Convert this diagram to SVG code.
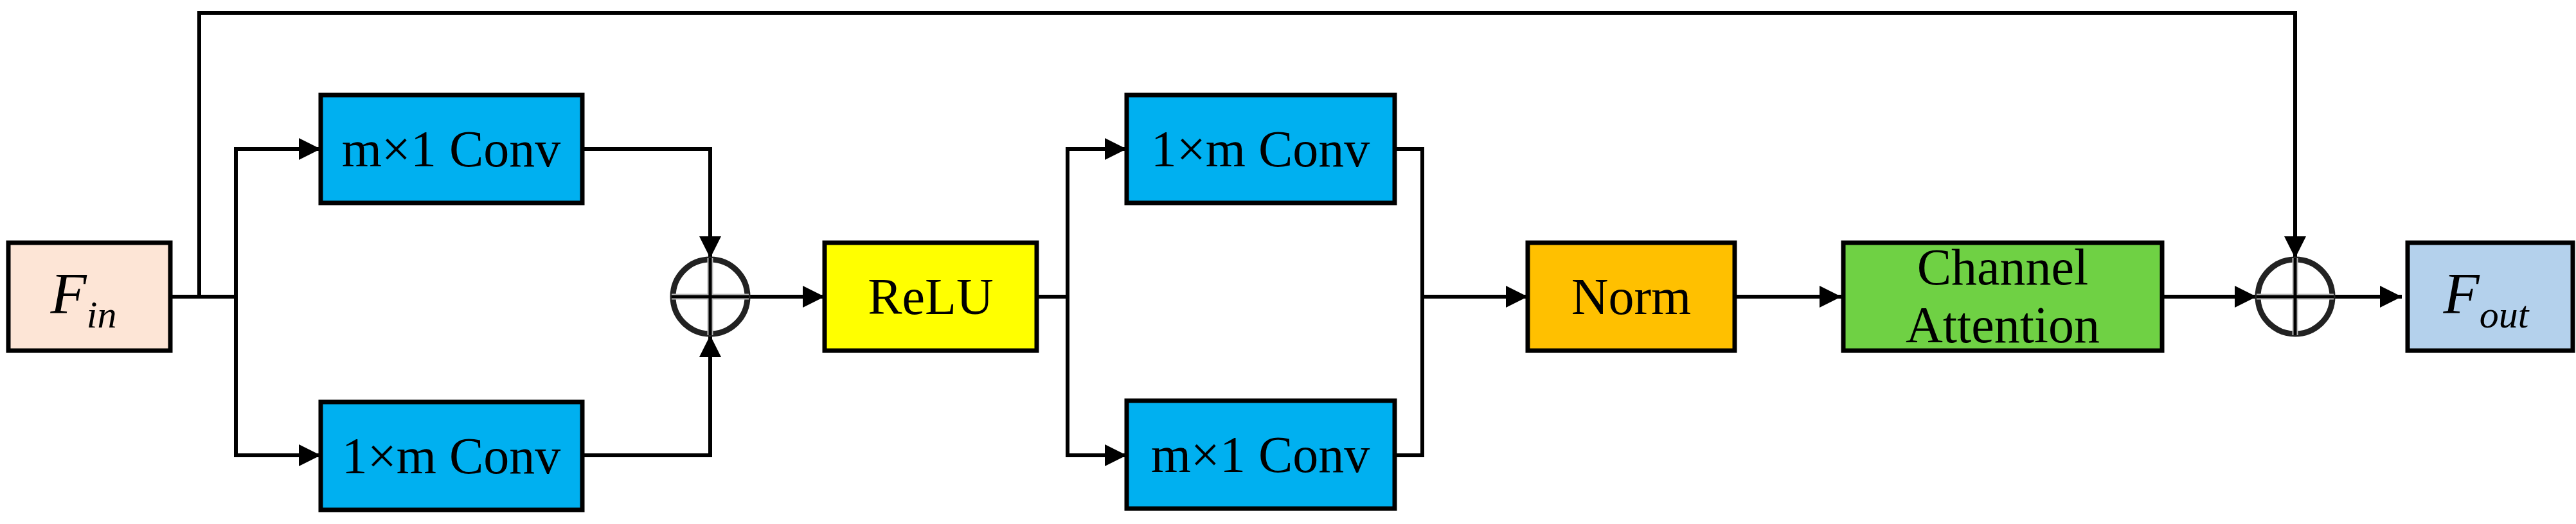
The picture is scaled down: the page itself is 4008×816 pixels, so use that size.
<svg xmlns="http://www.w3.org/2000/svg" width="4008" height="816" viewBox="0 0 4008 816">
<style>
.b{stroke:#000;stroke-width:7}
.t{font-family:"Liberation Serif",serif;font-size:80px;text-anchor:middle;fill:#000}
.c{fill:none;stroke:#000;stroke-width:6}
</style>
<defs>
<marker id="a" viewBox="0 0 10 10" refX="10" refY="5" markerWidth="34" markerHeight="34" markerUnits="userSpaceOnUse" orient="auto"><path d="M0,0L10,5L0,10z" fill="#000"/></marker>
</defs>
<rect width="4008" height="816" fill="#fff"/>
<g id="connectors" class="c">
<path d="M265,462H367V232H499" marker-end="url(#a)"/>
<path d="M367,462V709H499" marker-end="url(#a)"/>
<path d="M310,462V20H3571V402" marker-end="url(#a)"/>
<path d="M906,232H1105V402" marker-end="url(#a)"/>
<path d="M906,709H1105V522" marker-end="url(#a)"/>
<path d="M1165,462H1283" marker-end="url(#a)"/>
<path d="M1613,462H1661V232H1753" marker-end="url(#a)"/>
<path d="M1661,462V709H1753" marker-end="url(#a)"/>
<path d="M2170,232H2213V709H2170"/>
<path d="M2213,462H2377" marker-end="url(#a)"/>
<path d="M2699,462H2865" marker-end="url(#a)"/>
<path d="M3364,462H3511" marker-end="url(#a)"/>
<path d="M3631,462H3737" marker-end="url(#a)"/>
</g>
<g id="fin"><rect x="13" y="378" width="252" height="168" fill="#fde5d6" class="b"/><text x="130" y="488" class="t" style="font-style:italic;font-size:92px">F<tspan font-size="60" dy="22">in</tspan></text></g>
<g id="conv1"><rect x="499" y="148" width="407" height="168" fill="#00b0f0" class="b"/><text x="702" y="259" class="t">m×1 Conv</text></g>
<g id="conv2"><rect x="499" y="626" width="407" height="168" fill="#00b0f0" class="b"/><text x="702" y="737" class="t">1×m Conv</text></g>
<g id="add1"><circle cx="1105" cy="462" r="58" fill="none" stroke="#222" stroke-width="9"/><path d="M1045,462H1165M1105,402V522" stroke="#bbb" stroke-width="9"/><path d="M1045,462H1165M1105,402V522" stroke="#000" stroke-width="5"/></g>
<g id="relu"><rect x="1283" y="378" width="330" height="168" fill="#ffff00" class="b"/><text x="1448" y="489" class="t">ReLU</text></g>
<g id="conv3"><rect x="1753" y="148" width="417" height="168" fill="#00b0f0" class="b"/><text x="1961" y="259" class="t">1×m Conv</text></g>
<g id="conv4"><rect x="1753" y="624" width="417" height="168" fill="#00b0f0" class="b"/><text x="1961" y="735" class="t">m×1 Conv</text></g>
<g id="norm"><rect x="2377" y="378" width="322" height="168" fill="#ffc000" class="b"/><text x="2538" y="489" class="t">Norm</text></g>
<g id="ca"><rect x="2868" y="378" width="496" height="168" fill="#6fd144" class="b"/><text x="3116" y="443" class="t">Channel</text><text x="3116" y="533" class="t">Attention</text></g>
<g id="add2"><circle cx="3571" cy="462" r="58" fill="none" stroke="#222" stroke-width="9"/><path d="M3511,462H3631M3571,402V522" stroke="#bbb" stroke-width="9"/><path d="M3511,462H3631M3571,402V522" stroke="#000" stroke-width="5"/></g>
<g id="fout"><rect x="3746" y="378" width="257" height="168" fill="#b4d1ec" class="b"/><text x="3868" y="488" class="t" style="font-style:italic;font-size:92px">F<tspan font-size="60" dy="22">out</tspan></text></g>
</svg>
